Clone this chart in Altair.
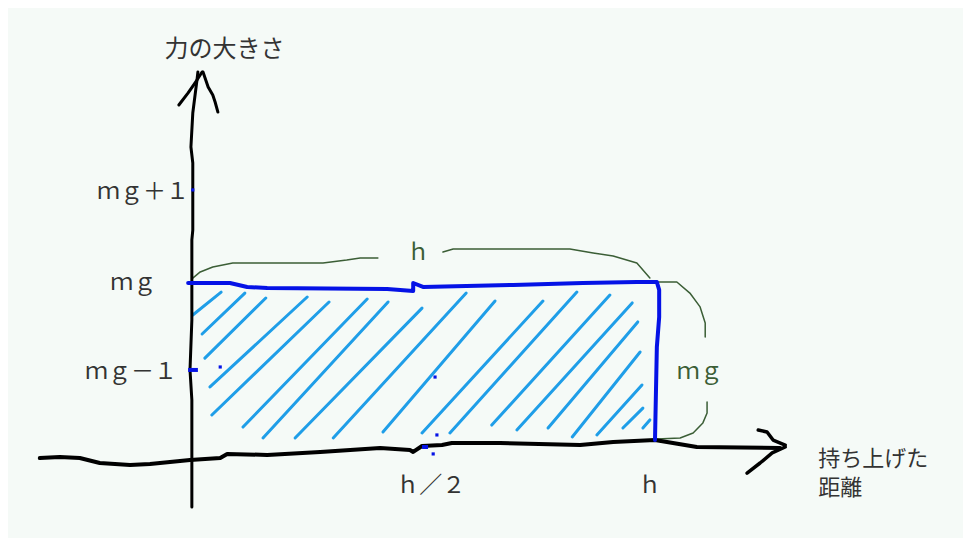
import altair as alt
import pandas as pd

# ---- data (x in units of h, y in units of mg) ----
# hand-drawn horizontal axis (distance)
xaxis_x = [-0.323, -0.280, -0.237, -0.194, -0.129, -0.086, 0.0, 0.065, 0.080, 0.166, 0.280, 0.409,
           0.473, 0.480, 0.499, 0.542, 0.563, 0.667, 0.839, 0.910, 1.0, 1.090, 1.269]
xaxis_y = [-0.061, -0.055, -0.061, -0.091, -0.103, -0.097, -0.073, -0.061, -0.036, -0.042, -0.024, 0.0,
           -0.012, -0.024, 0.012, 0.018, 0.030, 0.030, 0.018, 0.036, 0.048, 0.006, 0.0]
xarrow_up_x = [1.222, 1.241, 1.254, 1.280]
xarrow_up_y = [0.109, 0.097, 0.048, 0.018]
xarrow_lo_x = [1.280, 1.252, 1.226, 1.198]
xarrow_lo_y = [0.006, -0.030, -0.091, -0.152]

# hand-drawn vertical axis (force)
yaxis_x = [0.004, 0.004, 0.0, 0.004, 0.004, 0.006, 0.006, 0.002, 0.006, 0.015, 0.026]
yaxis_y = [-0.358, 0.291, 0.473, 0.776, 1.261, 1.321, 1.727, 1.824, 2.030, 2.230, 2.279]
yarrow_l_x = [-0.024, -0.004, 0.015, 0.017]
yarrow_l_y = [2.079, 2.152, 2.230, 2.279]
yarrow_r_x = [0.028, 0.039, 0.049, 0.054, 0.060]
yarrow_r_y = [2.279, 2.188, 2.139, 2.097, 2.036]

# blue outline of the force (constant mg over distance h)
force_x = [-0.004, 0.086, 0.123, 0.166, 0.424, 0.480, 0.480, 0.501, 0.695, 0.845, 0.961, 1.004,
           1.009, 1.009, 1.004, 1.0]
force_y = [1.0, 1.0, 0.976, 0.970, 0.964, 0.952, 1.0, 0.976, 0.988, 1.0, 1.006, 1.006,
           0.958, 0.794, 0.612, 0.048]

# hatch strokes (work = area)
hatch_x0 = [0.006, 0.026, 0.032, 0.043, 0.047, 0.114, 0.157, 0.226, 0.308, 0.415, 0.499, 0.559,
            0.649, 0.703, 0.770, 0.822, 0.875, 0.931, 0.974]
hatch_y0 = [0.806, 0.691, 0.545, 0.370, 0.200, 0.127, 0.061, 0.061, 0.061, 0.097, 0.091, 0.091,
            0.139, 0.109, 0.121, 0.067, 0.079, 0.121, 0.121]
hatch_x1 = [0.067, 0.118, 0.163, 0.252, 0.299, 0.381, 0.426, 0.499, 0.594, 0.656, 0.759, 0.832,
            0.903, 0.951, 0.963, 0.968, 0.972, 0.974, 0.989]
hatch_y1 = [0.945, 0.939, 0.909, 0.915, 0.885, 0.903, 0.885, 0.848, 0.939, 0.891, 0.891, 0.945,
            0.927, 0.879, 0.764, 0.582, 0.382, 0.242, 0.170]

# braces (dark green)
brace_top_l_x = [0.006, 0.022, 0.049, 0.092, 0.286, 0.337, 0.366, 0.404]
brace_top_l_y = [1.030, 1.067, 1.097, 1.121, 1.121, 1.139, 1.152, 1.152]
brace_top_r_x = [0.544, 0.566, 0.817, 0.867, 0.910, 0.961, 0.989]
brace_top_r_y = [1.188, 1.206, 1.206, 1.182, 1.164, 1.121, 1.030]
brace_rt_u_x = [1.006, 1.047, 1.075, 1.097, 1.108, 1.108]
brace_rt_u_y = [1.006, 1.006, 0.939, 0.855, 0.758, 0.673]
brace_rt_l_x = [1.112, 1.112, 1.103, 1.082, 1.054, 1.004]
brace_rt_l_y = [0.279, 0.212, 0.152, 0.091, 0.061, 0.055]

# small blue marks
dot_x = [0.006, 0.531, 0.527, 0.065, 0.523]
dot_y = [1.564, 0.079, 0.430, 0.491, -0.036]
tick_x0 = [-0.004, 0.499]
tick_x1 = [0.017, 0.512]
tick_y = [0.473, 0.006]

# labels
tick_labels = ["ｍｇ＋１", "ｍｇ", "ｍｇ－１", "ｈ／２", "ｈ"]
tick_lx = [-0.101, -0.122, -0.127, 0.518, 0.989]
tick_ly = [1.552, 1.0, 0.461, -0.230, -0.230]
brace_labels = ["ｈ", "ｍｇ"]
brace_lx = [0.491, 1.096]
brace_ly = [1.182, 0.461]
y_title = "力の大きさ"
y_title_x = [0.074]
y_title_y = [2.412]
x_title_lines = ["持ち上げた", "距離"]
x_title_x = [1.351, 1.351]
x_title_y = [-0.064, -0.245]

# ---- chart ----
xs = alt.Scale(domain=[-0.3914, 1.6624], nice=False, zero=False)
ys = alt.Scale(domain=[-0.5455, 2.6667], nice=False, zero=False)
X = alt.X("x:Q", scale=xs, axis=None)
Y = alt.Y("y:Q", scale=ys, axis=None)

BLACK = "#000000"
BLUE = "#0512e6"
LIGHT = "#1f9ee8"
GREEN = "#3b5e36"
TEXT = "#333333"
FONT = "Noto Sans CJK JP"


def poly(xv, yv, color, width):
    df = pd.DataFrame({"x": xv, "y": yv, "i": list(range(len(xv)))})
    return alt.Chart(df).mark_line(
        color=color, strokeWidth=width, strokeCap="round", strokeJoin="round"
    ).encode(x=X, y=Y, order="i:Q")


def labels(txt, xv, yv, color, size, align="center"):
    df = pd.DataFrame({"x": xv, "y": yv, "t": txt})
    return alt.Chart(df).mark_text(
        color=color, fontSize=size, font=FONT, align=align, baseline="middle"
    ).encode(x=X, y=Y, text="t:N")


hatch_df = pd.DataFrame({"x": hatch_x0, "y": hatch_y0, "x2": hatch_x1, "y2": hatch_y1})
hatch = alt.Chart(hatch_df).mark_rule(color=LIGHT, strokeWidth=3, strokeCap="round").encode(
    x=X, y=Y, x2="x2:Q", y2="y2:Q")

tick_df = pd.DataFrame({"x": tick_x0, "x2": tick_x1, "y": tick_y})
ticks = alt.Chart(tick_df).mark_rule(color=BLUE, strokeWidth=4).encode(x=X, x2="x2:Q", y=Y)

dot_df = pd.DataFrame({"x": dot_x, "y": dot_y})
dots = alt.Chart(dot_df).mark_square(color=BLUE, size=10, opacity=1).encode(x=X, y=Y)

layers = [
    hatch,
    poly(brace_top_l_x, brace_top_l_y, GREEN, 1.5),
    poly(brace_top_r_x, brace_top_r_y, GREEN, 1.5),
    poly(brace_rt_u_x, brace_rt_u_y, GREEN, 1.5),
    poly(brace_rt_l_x, brace_rt_l_y, GREEN, 1.5),
    poly(xaxis_x, xaxis_y, BLACK, 4),
    poly(xarrow_up_x, xarrow_up_y, BLACK, 3.5),
    poly(xarrow_lo_x, xarrow_lo_y, BLACK, 3.5),
    poly(yaxis_x, yaxis_y, BLACK, 3),
    poly(yarrow_l_x, yarrow_l_y, BLACK, 3),
    poly(yarrow_r_x, yarrow_r_y, BLACK, 3),
    poly(force_x, force_y, BLUE, 4),
    ticks,
    dots,
    labels(tick_labels, tick_lx, tick_ly, TEXT, 23),
    labels(brace_labels, brace_lx, brace_ly, GREEN, 23),
    labels([y_title], y_title_x, y_title_y, TEXT, 24),
    labels(x_title_lines, x_title_x, x_title_y, TEXT, 22, align="left"),
]

chart = alt.layer(*layers).properties(
    width=955, height=530, background="#f5faf7", padding=0,
    autosize=alt.AutoSizeParams(type="none"),
).configure_view(strokeWidth=0)

chart.save("out.html", embed_options={"renderer": "svg", "actions": False})
